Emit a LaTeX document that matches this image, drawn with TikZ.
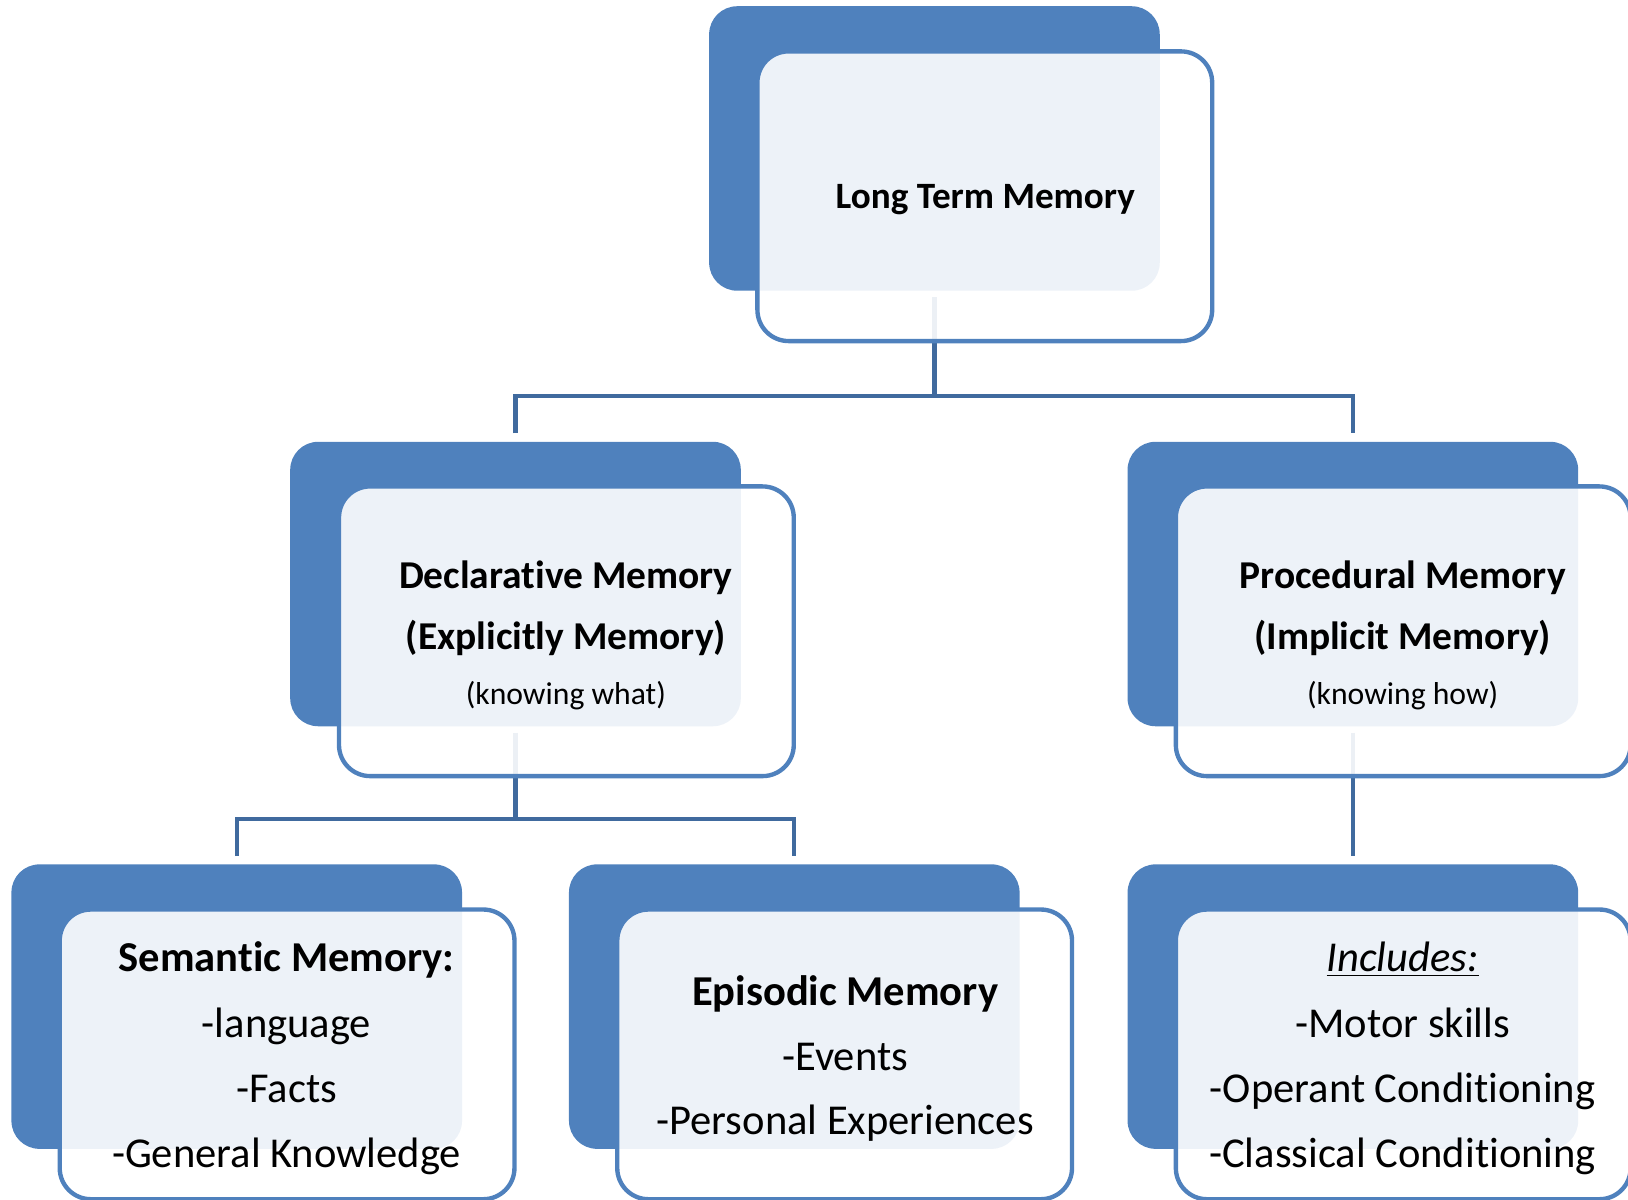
\documentclass[tikz,border=0pt]{standalone}
\usepackage{fontspec}
\setmainfont{Carlito}[Ligatures={NoCommon}]
\definecolor{boxblue}{RGB}{79,129,189}
\definecolor{linkblue}{RGB}{64,106,158}
\begin{document}
\begin{tikzpicture}[x=0.5pt,y=-0.5pt,
  backbox/.style={fill=boxblue, rounded corners=13.5pt, minimum width=217pt,
    minimum height=137pt, inner sep=0pt, outer sep=0pt},
  frontbox/.style={draw=boxblue, line width=2.1pt, fill=white, fill opacity=0.9,
    rounded corners=15pt, minimum width=219pt, minimum height=139.5pt,
    inner sep=0pt, outer sep=0pt},
  conn/.style={draw=linkblue, line width=2pt},
  topfont/.style={font=\fontsize{17.9}{21}\selectfont\bfseries},
  midhead/.style={font=\fontsize{19}{23}\selectfont\bfseries},
  midsub/.style={font=\fontsize{15.25}{18}\selectfont},
  lowhead/.style={font=\fontsize{20.5}{25}\selectfont\bfseries},
  lowitem/.style={font=\fontsize{20.5}{25}\selectfont},
  txt/.style={anchor=base, inner sep=0pt}]
\useasboundingbox (0,0) rectangle (1568,1155);
\clip (0,0) rectangle (1568,1155);

% solid back panels
\node[backbox] (ltmB)  at (900,143) {};
\node[backbox] (declB) at (496.5,562.5) {};
\node[backbox] (procB) at (1303,562.5) {};
\node[backbox] (semB)  at (228,969.5) {};
\node[backbox] (epiB)  at (765,969.5) {};
\node[backbox] (incB)  at (1303,969.5) {};

% tree connectors (drawn under the front panels)
\coordinate (j1) at (900,381);
\coordinate (j2) at (496.5,789);
\draw[conn, shorten <=3pt] (ltmB.south) -- (j1);
\draw[conn, shorten <=4pt, shorten >=4pt] (declB.north) |- (j1) -| (procB.north);
\draw[conn, shorten <=3pt] (declB.south) -- (j2);
\draw[conn, shorten <=4pt, shorten >=4pt] (semB.north) |- (j2) -| (epiB.north);
\draw[conn, shorten <=3pt, shorten >=4pt] (procB.south) -- (incB.north);

% translucent front panels
\node[frontbox] (ltmF)  at (948.5,189) {};
\node[frontbox] (declF) at (545.5,608) {};
\node[frontbox] (procF) at (1351.5,608) {};
\node[frontbox] (semF)  at (276.5,1015.5) {};
\node[frontbox] (epiF)  at (813.5,1015.5) {};
\node[frontbox] (incF)  at (1351.5,1015.5) {};

% labels
\node[txt, topfont] (ltmT) at (949,201) {Long Term Memory};

\node[txt, midhead] (declT1) at (545,567) {Declarative Memory};
\node[txt, midhead] (declT2) at (545,626) {(Explicitly Memory)};
\node[txt, midsub]  (declT3) at (545,679) {(knowing what)};

\node[txt, midhead] (procT1) at (1351,567) {Procedural Memory};
\node[txt, midhead] (procT2) at (1351,626) {(Implicit Memory)};
\node[txt, midsub]  (procT3) at (1351,679) {(knowing how)};

\node[txt, lowhead] (semT1) at (276,936) {Semantic Memory:};
\node[txt, lowitem] (semT2) at (276,999) {-language};
\node[txt, lowitem] (semT3) at (276,1062) {-Facts};
\node[txt, lowitem] (semT4) at (276,1124) {-General Knowledge};

\node[txt, lowhead] (epiT1) at (814,968) {Episodic Memory};
\node[txt, lowitem] (epiT2) at (814,1031) {-Events};
\node[txt, lowitem] (epiT3) at (814,1093) {-Personal Experiences};

\node[txt, lowitem] (incT1) at (1351,936) {\underline{\textit{Includes:}}};
\node[txt, lowitem] (incT2) at (1351,999) {-Motor skills};
\node[txt, lowitem] (incT3) at (1351,1062) {-Operant Conditioning};
\node[txt, lowitem] (incT4) at (1351,1124) {-Classical Conditioning};
\end{tikzpicture}
\end{document}
